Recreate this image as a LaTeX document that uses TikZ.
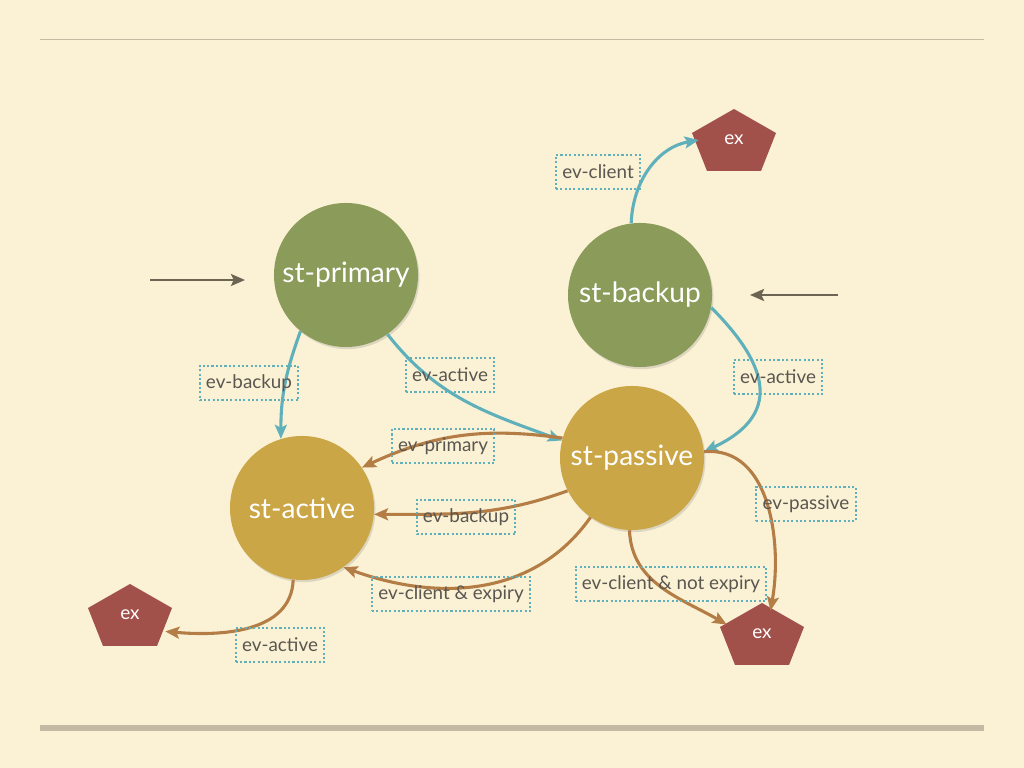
\documentclass[tikz,border=0pt]{standalone}
\usepackage{fontspec}
\setmainfont{Lato}
\usetikzlibrary{arrows.meta, shadows}

\definecolor{paper}{HTML}{FBF2D5}
\definecolor{rulegray}{HTML}{C4B9A3}
\definecolor{stgreen}{HTML}{8A9B5A}
\definecolor{stgold}{HTML}{CBA646}
\definecolor{exred}{HTML}{A2504A}
\definecolor{evteal}{HTML}{5FB0BA}
\definecolor{evbrown}{HTML}{B47D45}
\definecolor{evtext}{HTML}{5A5650}
\definecolor{entry}{HTML}{6C6554}

\begin{document}
\begin{tikzpicture}[x=0.025cm, y=0.025cm]

  \tikzstyle{state}=[circle, minimum size=3.6cm, inner sep=0pt, text=white,
    font=\fontsize{20}{24}\selectfont,
    drop shadow={opacity=.25, shadow xshift=1pt, shadow yshift=-1.5pt}]
  \tikzstyle{outer}=[state, fill=stgreen]
  \tikzstyle{inner}=[state, fill=stgold]
  \tikzstyle{exit}=[minimum width=1.75cm, minimum height=1.15cm, inner sep=0pt,
    text=white, font=\fontsize{13.5}{16}\selectfont]
  \tikzstyle{event}=[draw=evteal, line width=1.5pt, dash pattern=on 1.5pt off 1.6pt,
    text=evtext, font=\fontsize{13.4}{16}\selectfont, inner xsep=4.5pt,
    minimum height=24.5pt]
  \tikzstyle{tealedge}=[evteal, line width=2.2pt, -{Stealth[length=10pt, width=8.5pt, inset=2pt]}]
  \tikzstyle{brownedge}=[evbrown, line width=2.2pt, -{Stealth[length=10pt, width=8.5pt, inset=2pt]}]
  \tikzstyle{entryedge}=[entry, line width=1.8pt, -{Stealth[length=10pt, width=8.5pt, inset=2pt]}]

  % slide
  \fill [paper] (0,0) rectangle (1024,768);
  \draw [rulegray, line width=0.7pt] (40,728) -- (984,728);
  \draw [rulegray, line width=4.2pt] (40,40) -- (984,40);

  % states
  \node [outer] (st-primary) at (346,493) {st-primary};
  \node [outer] (st-backup) at (640,473) {st-backup};
  \node [inner] (st-passive) at (632,310) {st-passive};
  \node [inner] (st-active) at (302,260) {st-active};

  % exits
  \foreach \name/\pos in {ex-top/{734,628}, ex-left/{130,153}, ex-bottom/{762,134}} {
    \fill [exred] (\pos) +(0,31) -- +(42,7) -- +(27,-31) -- +(-27,-31) -- +(-42,7) -- cycle;
    \node [exit] (\name) at (\pos) {ex};
  }

  % entries
  \coordinate (in-primary) at (150,488);
  \coordinate (to-primary) at (245,488);
  \coordinate (in-backup) at (838,473);
  \coordinate (to-backup) at (750,473);
  \draw [entryedge] (in-primary) -- (to-primary);
  \draw [entryedge] (in-backup) -- (to-backup);

  % transitions
  \draw [tealedge] (st-primary.231) to[out=250, in=90] (st-active.107)
    node[event] at (249,385) {ev-backup};
  \draw [tealedge] (st-primary.305) to[out=-52, in=160] (st-passive.166)
    node[event] at (450,393) {ev-active};
  \draw [tealedge] (st-backup.97) to[out=88, in=190] (ex-top.west)
    node[event] at (598,596) {ev-client};
  \draw [tealedge] (st-backup.-10) to[out=-45, in=25, looseness=1.5] (st-passive.5)
    node[event] at (778,391) {ev-active};

  \draw [brownedge] (st-passive.164) to[out=172, in=25] (st-active.34)
    node[event] at (443,322) {ev-primary};
  \draw [brownedge] (st-passive.207) to[out=200, in=0] (st-active.-5)
    node[event] at (466,251) {ev-backup};
  \draw [brownedge] (st-passive.235) to[out=235, in=-20] (st-active.-55)
    node[event] at (451,174) {ev-client \& expiry};
  \draw [brownedge] (st-active.263) to[out=268, in=-5] (ex-left.-25)
    node[event] at (280,123) {ev-active};
  \draw [brownedge] (st-passive.268) to[out=-88, in=150] (ex-bottom.165)
    node[event] at (671,184) {ev-client \& not expiry};
  \draw [brownedge] (st-passive.5) to[out=5, in=80] (ex-bottom.70)
    node[event] at (806,264) {ev-passive};

\end{tikzpicture}
\end{document}
